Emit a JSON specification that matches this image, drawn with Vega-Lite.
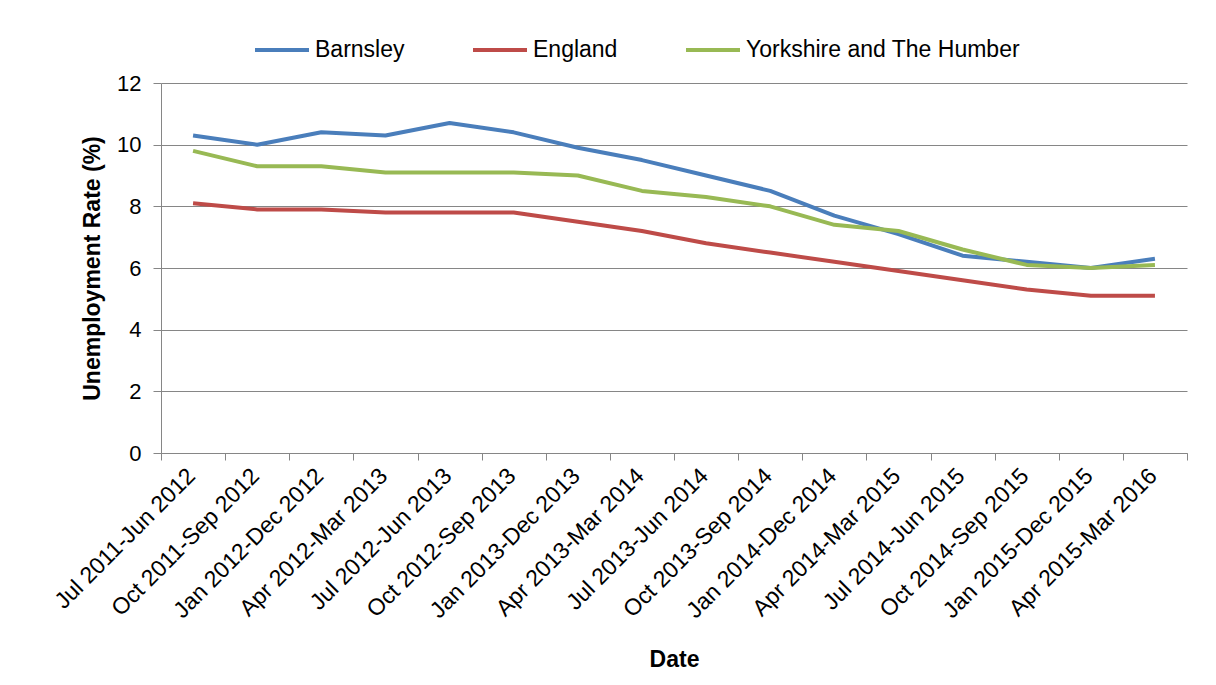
{
  "$schema": "https://vega.github.io/schema/vega-lite/v6.json",
  "description": "Unemployment rate, Barnsley vs England vs Yorkshire and The Humber",
  "autosize": {"type": "none"},
  "width": 1026,
  "height": 370,
  "padding": {"left": 161, "top": 83, "right": 29, "bottom": 232},
  "background": "white",
  "data": {
    "values": [
      {"date": "Jul 2011-Jun 2012", "area": "Barnsley", "rate": 10.3},
      {"date": "Jul 2011-Jun 2012", "area": "England", "rate": 8.1},
      {"date": "Jul 2011-Jun 2012", "area": "Yorkshire and The Humber", "rate": 9.8},
      {"date": "Oct 2011-Sep 2012", "area": "Barnsley", "rate": 10.0},
      {"date": "Oct 2011-Sep 2012", "area": "England", "rate": 7.9},
      {"date": "Oct 2011-Sep 2012", "area": "Yorkshire and The Humber", "rate": 9.3},
      {"date": "Jan 2012-Dec 2012", "area": "Barnsley", "rate": 10.4},
      {"date": "Jan 2012-Dec 2012", "area": "England", "rate": 7.9},
      {"date": "Jan 2012-Dec 2012", "area": "Yorkshire and The Humber", "rate": 9.3},
      {"date": "Apr 2012-Mar 2013", "area": "Barnsley", "rate": 10.3},
      {"date": "Apr 2012-Mar 2013", "area": "England", "rate": 7.8},
      {"date": "Apr 2012-Mar 2013", "area": "Yorkshire and The Humber", "rate": 9.1},
      {"date": "Jul 2012-Jun 2013", "area": "Barnsley", "rate": 10.7},
      {"date": "Jul 2012-Jun 2013", "area": "England", "rate": 7.8},
      {"date": "Jul 2012-Jun 2013", "area": "Yorkshire and The Humber", "rate": 9.1},
      {"date": "Oct 2012-Sep 2013", "area": "Barnsley", "rate": 10.4},
      {"date": "Oct 2012-Sep 2013", "area": "England", "rate": 7.8},
      {"date": "Oct 2012-Sep 2013", "area": "Yorkshire and The Humber", "rate": 9.1},
      {"date": "Jan 2013-Dec 2013", "area": "Barnsley", "rate": 9.9},
      {"date": "Jan 2013-Dec 2013", "area": "England", "rate": 7.5},
      {"date": "Jan 2013-Dec 2013", "area": "Yorkshire and The Humber", "rate": 9.0},
      {"date": "Apr 2013-Mar 2014", "area": "Barnsley", "rate": 9.5},
      {"date": "Apr 2013-Mar 2014", "area": "England", "rate": 7.2},
      {"date": "Apr 2013-Mar 2014", "area": "Yorkshire and The Humber", "rate": 8.5},
      {"date": "Jul 2013-Jun 2014", "area": "Barnsley", "rate": 9.0},
      {"date": "Jul 2013-Jun 2014", "area": "England", "rate": 6.8},
      {"date": "Jul 2013-Jun 2014", "area": "Yorkshire and The Humber", "rate": 8.3},
      {"date": "Oct 2013-Sep 2014", "area": "Barnsley", "rate": 8.5},
      {"date": "Oct 2013-Sep 2014", "area": "England", "rate": 6.5},
      {"date": "Oct 2013-Sep 2014", "area": "Yorkshire and The Humber", "rate": 8.0},
      {"date": "Jan 2014-Dec 2014", "area": "Barnsley", "rate": 7.7},
      {"date": "Jan 2014-Dec 2014", "area": "England", "rate": 6.2},
      {"date": "Jan 2014-Dec 2014", "area": "Yorkshire and The Humber", "rate": 7.4},
      {"date": "Apr 2014-Mar 2015", "area": "Barnsley", "rate": 7.1},
      {"date": "Apr 2014-Mar 2015", "area": "England", "rate": 5.9},
      {"date": "Apr 2014-Mar 2015", "area": "Yorkshire and The Humber", "rate": 7.2},
      {"date": "Jul 2014-Jun 2015", "area": "Barnsley", "rate": 6.4},
      {"date": "Jul 2014-Jun 2015", "area": "England", "rate": 5.6},
      {"date": "Jul 2014-Jun 2015", "area": "Yorkshire and The Humber", "rate": 6.6},
      {"date": "Oct 2014-Sep 2015", "area": "Barnsley", "rate": 6.2},
      {"date": "Oct 2014-Sep 2015", "area": "England", "rate": 5.3},
      {"date": "Oct 2014-Sep 2015", "area": "Yorkshire and The Humber", "rate": 6.1},
      {"date": "Jan 2015-Dec 2015", "area": "Barnsley", "rate": 6.0},
      {"date": "Jan 2015-Dec 2015", "area": "England", "rate": 5.1},
      {"date": "Jan 2015-Dec 2015", "area": "Yorkshire and The Humber", "rate": 6.0},
      {"date": "Apr 2015-Mar 2016", "area": "Barnsley", "rate": 6.3},
      {"date": "Apr 2015-Mar 2016", "area": "England", "rate": 5.1},
      {"date": "Apr 2015-Mar 2016", "area": "Yorkshire and The Humber", "rate": 6.1}
    ]
  },
  "mark": {"type": "line", "strokeWidth": 4, "strokeJoin": "round"},
  "encoding": {
    "x": {
      "field": "date",
      "type": "nominal",
      "sort": null,
      "scale": {"type": "band", "paddingInner": 0, "paddingOuter": 0},
      "axis": {
        "title": "Date",
        "labelAngle": -45,
        "labelAlign": "right",
        "labelBaseline": "middle",
        "labelLimit": 0,
        "labelFontSize": 23,
        "labelOffset": -2,
        "tickBand": "extent",
        "tickSize": 7,
        "labelPadding": 12,
        "titlePadding": 26
      }
    },
    "y": {
      "field": "rate",
      "type": "quantitative",
      "scale": {"domain": [0, 12]},
      "axis": {
        "title": "Unemployment Rate (%)",
        "values": [0, 2, 4, 6, 8, 10, 12],
        "tickSize": 8,
        "labelPadding": 12,
        "titlePadding": 12,
        "grid": true
      }
    },
    "color": {
      "field": "area",
      "type": "nominal",
      "scale": {
        "domain": ["Barnsley", "England", "Yorkshire and The Humber"],
        "range": ["#4a7ebb", "#be4b48", "#98b954"]
      },
      "legend": {
        "title": null,
        "orient": "none",
        "direction": "horizontal",
        "legendX": 92,
        "legendY": -62,
        "symbolType": "stroke",
        "symbolSize": 2916,
        "symbolStrokeWidth": 4,
        "labelFontSize": 23,
        "labelLimit": 0,
        "labelOffset": 4,
        "columnPadding": 60
      }
    }
  },
  "config": {
    "font": "Liberation Sans",
    "view": {"stroke": null},
    "axis": {
      "labelFontSize": 22,
      "labelColor": "#000000",
      "titleFontSize": 23,
      "titleFontWeight": "bold",
      "titleColor": "#000000",
      "domainColor": "#868686",
      "tickColor": "#868686",
      "gridColor": "#868686",
      "gridWidth": 1
    },
    "axisX": {"grid": false},
    "legend": {"labelColor": "#000000"}
  }
}
